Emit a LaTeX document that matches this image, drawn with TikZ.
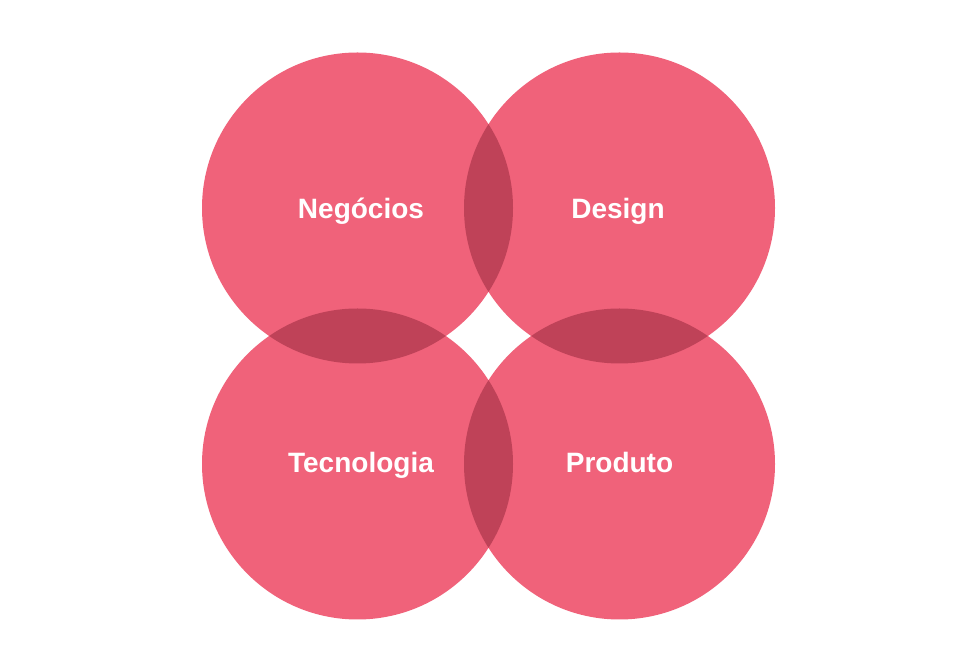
\documentclass[tikz,border=0pt]{standalone}
\usepackage{fontspec}
\setmainfont{Liberation Sans}
\definecolor{petal}{HTML}{F0627A}
\definecolor{petaldark}{HTML}{BF4258}
\begin{document}
\begin{tikzpicture}[x=1pt,y=1pt,
  lbl/.style={text=white,font=\bfseries\fontsize{28}{32}\selectfont,inner sep=0pt,anchor=base}]
\useasboundingbox[fill=white] (0,0) rectangle (978,672);
\def\R{155.5}
\coordinate (ctl) at (357.5,464);
\coordinate (ctr) at (619.5,464);
\coordinate (cbl) at (357.5,208);
\coordinate (cbr) at (619.5,208);
\foreach \c in {ctl,ctr,cbl,cbr} \fill[petal] (\c) circle (\R);
\begin{scope}\clip (ctl) circle (\R); \fill[petaldark] (ctr) circle (\R); \fill[petaldark] (cbl) circle (\R);\end{scope}
\begin{scope}\clip (cbr) circle (\R); \fill[petaldark] (ctr) circle (\R); \fill[petaldark] (cbl) circle (\R);\end{scope}
\node[lbl] (neg) at (361,453) {Negócios};
\node[lbl] (des) at (618,453) {Design};
\node[lbl] (tec) at (361,199) {Tecnologia};
\node[lbl] (pro) at (619.5,199) {Produto};
\end{tikzpicture}
\end{document}
